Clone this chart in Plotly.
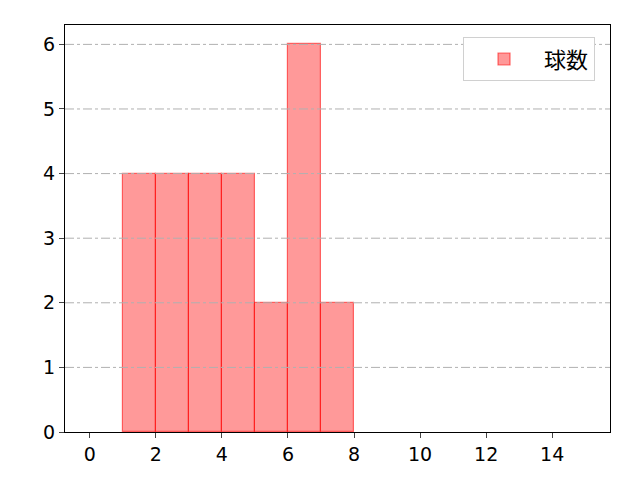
"""Pitch-count histogram recreated with Plotly."""

import plotly.graph_objects as go

BIN_EDGES = [1, 2, 3, 4, 5, 6, 7, 8]
COUNTS = [4, 4, 4, 4, 2, 6, 2]
SERIES_NAME = "球数"
X_TICKS = [0, 2, 4, 6, 8, 10, 12, 14]
Y_TICKS = [0, 1, 2, 3, 4, 5, 6]

TICK_FONT = "DejaVu Sans, sans-serif"
CJK_FONT = "Noto Sans CJK JP, DejaVu Sans, sans-serif"

lefts = BIN_EDGES[:-1]
widths = [b - a for a, b in zip(BIN_EDGES[:-1], BIN_EDGES[1:])]
centers = [a + w / 2 for a, w in zip(lefts, widths)]

fig = go.Figure()
fig.add_trace(
    go.Bar(
        x=centers,
        y=COUNTS,
        width=widths,
        name=SERIES_NAME,
        marker={
            "color": "rgba(255,0,0,0.4)",
            "line": {"color": "rgba(255,0,0,0.55)", "width": 1.2},
        },
        showlegend=True,
    )
)

# matplotlib drew the grid on top of the bars
for value in Y_TICKS[1:]:
    fig.add_shape(
        type="line",
        xref="paper",
        x0=0,
        x1=1,
        yref="y",
        y0=value,
        y1=value,
        line={"color": "#b0b0b0", "width": 1, "dash": "dashdot"},
        layer="above",
    )

axis_style = {
    "ticks": "outside",
    "ticklen": 5,
    "showgrid": False,
    "zeroline": False,
    "showline": True,
    "linecolor": "black",
    "linewidth": 1,
    "mirror": True,
    "tickfont": {"family": TICK_FONT, "size": 19, "color": "black"},
}

fig.update_layout(
    width=640,
    height=480,
    margin={"l": 57, "r": 38, "t": 17, "b": 56},
    paper_bgcolor="white",
    plot_bgcolor="white",
    font={"family": CJK_FONT, "size": 19, "color": "black"},
    bargap=0,
    showlegend=True,
    legend={
        "x": 0.9725,
        "y": 0.97,
        "xanchor": "right",
        "yanchor": "top",
        "bgcolor": "white",
        "bordercolor": "#d0d0d0",
        "borderwidth": 1,
        "itemwidth": 70,
        "font": {"family": CJK_FONT, "size": 22},
    },
    xaxis={"range": [-0.75, 15.75], "tickvals": X_TICKS, **axis_style},
    yaxis={"range": [0, 6.3], "tickvals": Y_TICKS, **axis_style},
)

fig.write_html("out.html")
